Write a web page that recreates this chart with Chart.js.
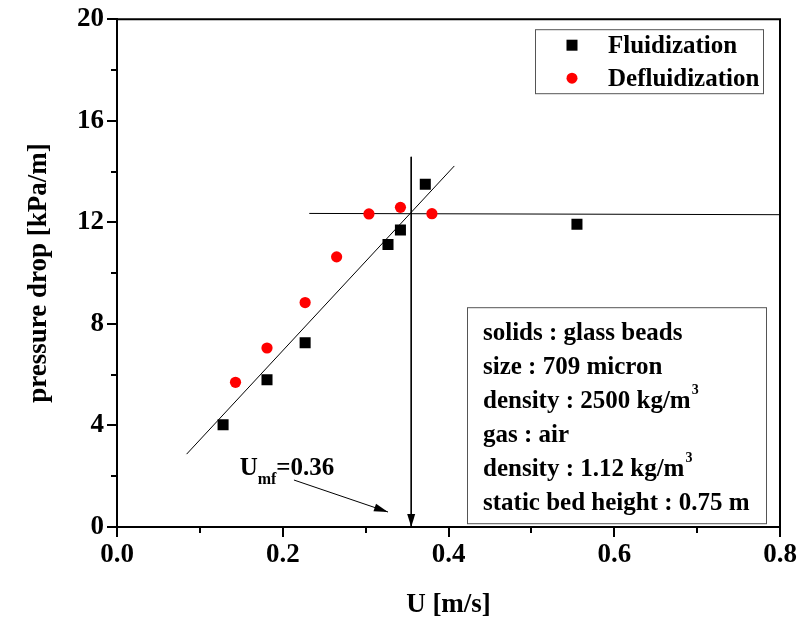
<!DOCTYPE html>
<html>
<head>
<meta charset="utf-8">
<script src="https://cdn.jsdelivr.net/npm/chart.js@4.4.0/dist/chart.umd.min.js"></script>
<style>
  html, body { margin: 0; padding: 0; background: #fff; }
  #wrap { width: 805px; height: 621px; }
</style>
</head>
<body>
<div id="wrap"><canvas id="chart" width="805" height="621"></canvas></div>
<script>
// measured points
const fluidU = [0.128, 0.181, 0.227, 0.327, 0.342, 0.372, 0.555];
const fluidDP = [4.03, 5.80, 7.26, 11.13, 11.70, 13.50, 11.92];
const defluidU = [0.143, 0.181, 0.227, 0.265, 0.304, 0.342, 0.380];
const defluidDP = [5.70, 7.05, 8.84, 10.64, 12.33, 12.59, 12.34];

// guide lines
const fitU = [0.084, 0.407];
const fitDP = [2.87, 14.22];
const plateauU = [0.232, 0.8];
const plateauDP = [12.35, 12.30];
const umfU = [0.355, 0.355];
const umfDP = [14.58, 0];
const pointerU = [0.2135, 0.327];
const pointerDP = [1.85, 0.59];
const umfLabelU = 0.148;
const umfLabelDP = 2.04;

const xMin = 0, xMax = 0.8, xStep = 0.1;
const yMin = 0, yMax = 20, yStep = 2;

const infoLines = [
    ['solids : glass beads', ''],
    ['size : 709 micron', ''],
    ['density : 2500 kg/m', '3'],
    ['gas : air', ''],
    ['density : 1.12 kg/m', '3'],
    ['static bed height : 0.75 m', '']
];

const FONT = '"Liberation Serif", "Times New Roman", serif';

function toPoints(xs, ys) {
    return xs.map((v, i) => ({ x: v, y: ys[i] }));
}

function guide(xs, ys) {
    return {
        type: 'line',
        data: toPoints(xs, ys),
        borderColor: '#000',
        borderWidth: 1,
        pointRadius: 0,
        showLine: true,
        fill: false,
        order: 2
    };
}

function arrowHead(ctx, x0, y0, x1, y1, len, half) {
    const a = Math.atan2(y1 - y0, x1 - x0);
    ctx.beginPath();
    ctx.moveTo(x1, y1);
    ctx.lineTo(x1 - len * Math.cos(a) + half * Math.sin(a), y1 - len * Math.sin(a) - half * Math.cos(a));
    ctx.lineTo(x1 - len * Math.cos(a) - half * Math.sin(a), y1 - len * Math.sin(a) + half * Math.cos(a));
    ctx.closePath();
    ctx.fill();
}

// frame, minor ticks, arrows, legend and info box
const extras = {
    id: 'extras',
    afterDraw(chart) {
        const { ctx, chartArea: a, scales: { x, y } } = chart;
        ctx.save();
        ctx.strokeStyle = '#000';
        ctx.fillStyle = '#000';

        // top and right frame
        ctx.lineWidth = 2;
        ctx.beginPath();
        ctx.moveTo(a.left, a.top);
        ctx.lineTo(a.right, a.top);
        ctx.lineTo(a.right, a.bottom);
        ctx.stroke();

        // minor ticks
        x.ticks.forEach(t => {
            if (Math.round(t.value * 10) % 2 !== 0) {
                const px = Math.round(x.getPixelForValue(t.value));
                ctx.beginPath();
                ctx.moveTo(px, a.bottom);
                ctx.lineTo(px, a.bottom + 6);
                ctx.stroke();
            }
        });
        y.ticks.forEach(t => {
            if (Math.round(t.value) % 4 !== 0) {
                const py = Math.round(y.getPixelForValue(t.value));
                ctx.beginPath();
                ctx.moveTo(a.left, py);
                ctx.lineTo(a.left - 6, py);
                ctx.stroke();
            }
        });

        // arrow heads
        arrowHead(ctx, x.getPixelForValue(umfU[0]), y.getPixelForValue(umfDP[0]),
            x.getPixelForValue(umfU[1]), y.getPixelForValue(umfDP[1]), 13, 4);
        arrowHead(ctx, x.getPixelForValue(pointerU[0]), y.getPixelForValue(pointerDP[0]),
            x.getPixelForValue(pointerU[1]), y.getPixelForValue(pointerDP[1]), 14, 4);

        // U_mf label
        const lx = x.getPixelForValue(umfLabelU);
        const ly = y.getPixelForValue(umfLabelDP);
        ctx.textBaseline = 'alphabetic';
        ctx.textAlign = 'left';
        ctx.font = 'bold 25px ' + FONT;
        ctx.fillText('U', lx, ly);
        let w = ctx.measureText('U').width;
        ctx.font = 'bold 16px ' + FONT;
        ctx.fillText('mf', lx + w, ly + 9);
        w += ctx.measureText('mf').width;
        ctx.font = 'bold 25px ' + FONT;
        ctx.fillText('=0.36', lx + w, ly);

        // legend
        const lgL = a.right - 245, lgT = a.top + 10, lgW = 228, lgH = 64;
        ctx.lineWidth = 1;
        ctx.strokeStyle = '#555';
        ctx.strokeRect(lgL + 0.5, lgT + 0.5, lgW, lgH);
        const ds = chart.data.datasets;
        ctx.font = 'bold 25px ' + FONT;
        ctx.textBaseline = 'middle';
        [0, 1].forEach(i => {
            const cy = lgT + 16 + i * 33;
            const cx = lgL + 37;
            ctx.fillStyle = ds[i].backgroundColor;
            if (ds[i].pointStyle === 'rect') {
                ctx.fillRect(cx - 5.5, cy - 5.5, 11, 11);
            } else {
                ctx.beginPath();
                ctx.arc(cx, cy, 5.5, 0, Math.PI * 2);
                ctx.fill();
            }
            ctx.fillStyle = '#000';
            ctx.fillText(ds[i].label, lgL + 73, cy + 1);
        });

        // info box
        const bL = a.left + 350, bT = a.top + 288, bW = 299, bH = 216;
        ctx.strokeStyle = '#555';
        ctx.strokeRect(bL + 0.5, bT + 0.5, bW, bH);
        ctx.fillStyle = '#000';
        ctx.textBaseline = 'alphabetic';
        infoLines.forEach((ln, i) => {
            const by = bT + 33 + i * 34;
            ctx.font = 'bold 25px ' + FONT;
            ctx.fillText(ln[0], bL + 16, by);
            if (ln[1]) {
                const tw = ctx.measureText(ln[0]).width;
                ctx.font = 'bold 14px ' + FONT;
                ctx.fillText(ln[1], bL + 16 + tw + 1, by - 14);
            }
        });
        ctx.restore();
    }
};

const tickFont = { family: FONT, size: 27, weight: 'bold' };

new Chart(document.getElementById('chart').getContext('2d'), {
    type: 'scatter',
    data: {
        datasets: [
            {
                label: 'Fluidization',
                data: toPoints(fluidU, fluidDP),
                pointStyle: 'rect',
                pointRadius: 7.8,
                backgroundColor: '#000',
                borderColor: '#000',
                borderWidth: 0,
                order: 0
            },
            {
                label: 'Defluidization',
                data: toPoints(defluidU, defluidDP),
                pointStyle: 'circle',
                pointRadius: 5.6,
                backgroundColor: '#ff0000',
                borderColor: '#ff0000',
                borderWidth: 0,
                order: 1
            },
            guide(fitU, fitDP),
            guide(plateauU, plateauDP),
            guide(umfU, umfDP),
            guide(pointerU, pointerDP)
        ]
    },
    options: {
        responsive: false,
        animation: false,
        layout: { padding: { left: 0, right: 25, top: 18, bottom: 0 } },
        plugins: {
            legend: { display: false },
            tooltip: { enabled: false }
        },
        scales: {
            x: {
                type: 'linear',
                min: xMin,
                max: xMax,
                afterFit: s => { s.height = 94; },
                ticks: {
                    stepSize: xStep,
                    color: '#000',
                    font: tickFont,
                    padding: 2,
                    maxRotation: 0,
                    autoSkip: false,
                    callback: v => (Math.round(v * 10) % 2 === 0 ? v.toFixed(1) : '')
                },
                grid: {
                    drawOnChartArea: false,
                    drawTicks: true,
                    tickLength: 10,
                    lineWidth: 2,
                    color: c => (c.tick && Math.round(c.tick.value * 10) % 2 === 0 ? '#000' : 'rgba(0,0,0,0)')
                },
                border: { display: true, color: '#000', width: 2 },
                title: {
                    display: true,
                    text: 'U [m/s]',
                    color: '#000',
                    font: { family: FONT, size: 27, weight: 'bold' },
                    padding: { top: 0, bottom: 0 }
                }
            },
            y: {
                type: 'linear',
                min: yMin,
                max: yMax,
                afterFit: s => { s.width = 117; },
                ticks: {
                    stepSize: yStep,
                    color: '#000',
                    font: tickFont,
                    padding: 3,
                    autoSkip: false,
                    callback: v => (Math.round(v) % 4 === 0 ? String(v) : '')
                },
                grid: {
                    drawOnChartArea: false,
                    drawTicks: true,
                    tickLength: 10,
                    lineWidth: 2,
                    color: c => (c.tick && Math.round(c.tick.value) % 4 === 0 ? '#000' : 'rgba(0,0,0,0)')
                },
                border: { display: true, color: '#000', width: 2 },
                title: {
                    display: true,
                    text: 'pressure drop [kPa/m]',
                    color: '#000',
                    font: { family: FONT, size: 27, weight: 'bold' },
                    padding: { top: 23, bottom: 0 }
                }
            }
        }
    },
    plugins: [extras]
});
</script>
</body>
</html>
